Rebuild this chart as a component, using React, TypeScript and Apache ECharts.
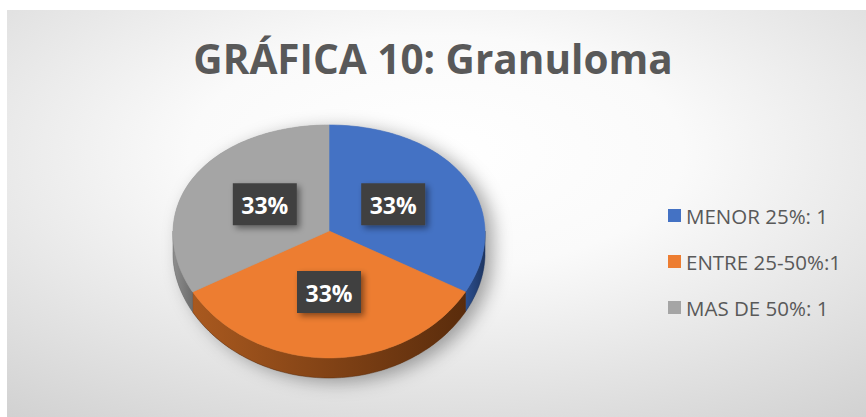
import React, { useEffect, useRef } from "react";
import * as echarts from "echarts";

const titleText = "GRÁFICA 10: Granuloma";
const categories = ["MENOR 25%: 1", "ENTRE 25-50%:1", "MAS DE 50%: 1"];
const values = [1, 1, 1];
const topColors = ["#4472C4", "#ED7D31", "#A5A5A5"];
const sideColors = [
  ["#2c4f8f", "#1d3561"],
  ["#a9591f", "#5a2c0c"],
  ["#8e8e8e", "#6d6d6d"],
];

// geometry of the 3D pie (layout only)
const CX = 329;
const CY = 231;
const RX = 156;
const RA = 116.5;
const RB = 10.5;
const DEPTH = 20;
const LABEL_F = 0.48;

function pt(deg: number, f: number, dy: number): number[] {
  const t = (deg * Math.PI) / 180;
  const s = Math.sin(t);
  const c = Math.cos(t);
  return [CX + f * RX * c * (1 + 0.02 * s), CY + f * (RA * s + RB * s * s) + dy];
}

function arc(a: number, b: number, dy: number): number[][] {
  const pts: number[][] = [];
  const n = Math.max(2, Math.ceil(Math.abs(b - a) / 1.5));
  for (let k = 0; k <= n; k++) pts.push(pt(a + ((b - a) * k) / n, 1, dy));
  return pts;
}

function sliceAngles(i: number) {
  const total = values.reduce((p, v) => p + v, 0);
  let cum = 0;
  for (let j = 0; j < i; j++) cum += values[j];
  const a0 = -90 + (cum / total) * 360;
  const a1 = a0 + (values[i] / total) * 360;
  return { a0, a1, pct: Math.round((values[i] / total) * 100) };
}

function renderPie(params: any, api: any) {
  const i = params.dataIndex;
  const { a0, a1 } = sliceAngles(i);
  const children: any[] = [];
  if (i === 0) {
    const outline = [...arc(180, 360, 0), ...arc(0, 180, DEPTH)];
    children.push({
      type: "polygon",
      shape: { points: outline },
      style: {
        fill: "#999",
        shadowBlur: 18,
        shadowColor: "rgba(0,0,0,0.35)",
        shadowOffsetX: 8,
        shadowOffsetY: 4,
      },
    });
  }
  const s0 = Math.max(a0, 0);
  const s1 = Math.min(a1, 180);
  if (s1 > s0) {
    const pts = [...arc(s0, s1, 0), ...arc(s1, s0, DEPTH)];
    children.push({
      type: "polygon",
      shape: { points: pts },
      style: {
        fill: new echarts.graphic.LinearGradient(0, 0, 1, 0, [
          { offset: 0, color: sideColors[i][0] },
          { offset: 1, color: sideColors[i][1] },
        ]),
        stroke: sideColors[i][1],
        lineWidth: 0.5,
      },
    });
  }
  const top = [[CX, CY], ...arc(a0, a1, 0)];
  children.push({
    type: "polygon",
    shape: { points: top },
    style: { fill: topColors[i], stroke: topColors[i], lineWidth: 0.6 },
  });
  return { type: "group", children };
}

function renderLabel(params: any, api: any) {
  const i = params.dataIndex;
  const { a0, a1, pct } = sliceAngles(i);
  const [x, y] = pt((a0 + a1) / 2, LABEL_F, 0);
  const w = 64;
  const h = 42;
  return {
    type: "group",
    children: [
      {
        type: "rect",
        shape: { x: x - w / 2, y: y - h / 2, width: w, height: h },
        style: {
          fill: "#404040",
          shadowBlur: 6,
          shadowColor: "rgba(0,0,0,0.45)",
          shadowOffsetX: 3,
          shadowOffsetY: 3,
        },
      },
      {
        type: "text",
        x: x,
        y: y + 1,
        style: {
          text: pct + "%",
          fill: "#ffffff",
          font: 'bold 23px "Open Sans", sans-serif',
          align: "center",
          verticalAlign: "middle",
        },
      },
    ],
  };
}

export default function App() {
  const ref = useRef<HTMLDivElement>(null);
  useEffect(() => {
    document.body.style.margin = "0";
    const chart = echarts.init(ref.current!, null, { renderer: "svg" });
    chart.setOption({
      animation: false,
      graphic: [
        {
          type: "rect",
          z: 0,
          shape: { x: 7, y: 10, width: 859, height: 407 },
          style: {
            fill: new echarts.graphic.RadialGradient(0.5, 0.35, 1.15, [
              { offset: 0, color: "#ffffff" },
              { offset: 0.25, color: "#fafafa" },
              { offset: 1, color: "#b8b8b8" },
            ]),
          },
        },
      ],
      title: {
        text: titleText,
        left: "center",
        top: 33,
        textStyle: {
          fontFamily: '"Open Sans", sans-serif',
          fontWeight: "bold",
          fontSize: 40.5,
          color: "#595959",
        },
      },
      legend: {
        orient: "vertical",
        left: 663,
        top: 200,
        itemWidth: 13,
        itemHeight: 13,
        itemGap: 25,
        icon: "rect",
        data: categories,
        textStyle: {
          fontFamily: '"Open Sans", sans-serif',
          fontSize: 20.5,
          lineHeight: 20,
          color: "#595959",
        },
      },
      series: [
        {
          type: "pie",
          radius: [0, 0],
          center: [CX, CY],
          silent: true,
          label: { show: false },
          labelLine: { show: false },
          data: categories.map((c, i) => ({
            name: c,
            value: values[i],
            itemStyle: { color: topColors[i] },
          })),
        },
        {
          type: "custom",
          coordinateSystem: "none",
          renderItem: renderPie,
          data: values,
          z: 2,
        },
        {
          type: "custom",
          coordinateSystem: "none",
          renderItem: renderLabel,
          data: values,
          z: 3,
        },
      ],
    });
    return () => chart.dispose();
  }, []);
  return <div ref={ref} style={{ width: 866, height: 417 }} />;
}
